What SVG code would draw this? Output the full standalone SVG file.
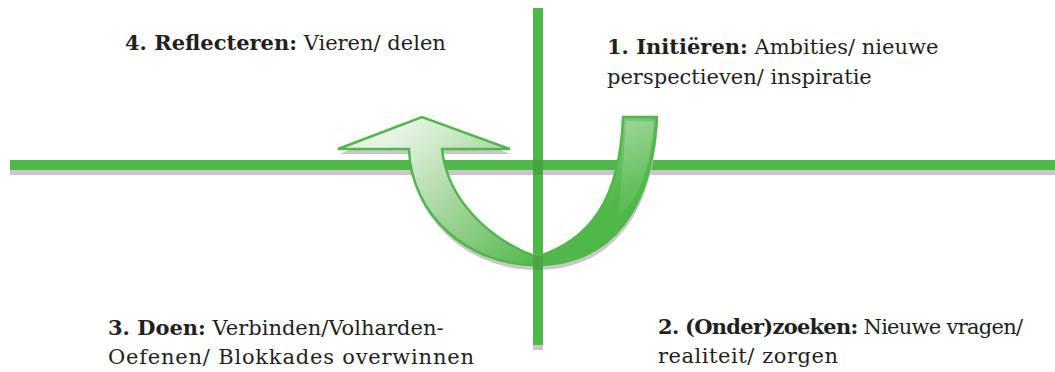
<svg xmlns="http://www.w3.org/2000/svg" width="1055" height="372" viewBox="0 0 1055 372">
<style>
.bar{fill:#4fb848}
.sh{fill:#c9c7c9}
.t{font-family:"DejaVu Serif","Liberation Serif",serif;font-size:21px;fill:#231f20}
.b{font-weight:bold}
</style>
<defs>
<linearGradient id="g" gradientUnits="userSpaceOnUse" x1="420" y1="115" x2="545" y2="262">
<stop offset="0" stop-color="#e6f3e3"/>
<stop offset="0.5" stop-color="#9fd397"/>
<stop offset="1" stop-color="#4fb848"/>
</linearGradient>
<linearGradient id="g2" gradientUnits="userSpaceOnUse" x1="640" y1="117" x2="600" y2="240">
<stop offset="0" stop-color="#ffffff" stop-opacity="0.25"/>
<stop offset="1" stop-color="#ffffff" stop-opacity="0"/>
</linearGradient>
<path id="arrow" d="M409,149 C411,215 468,265 535,265 C615,265 652,205 657,117 L623,117 C620,200 590,240 537,257 C490,240 447,200 442,149 L510,149 L422,117 L338,149 Z"/>
</defs>
<g id="axes">
<rect class="sh" x="10" y="170" width="1045" height="5"/>
<rect class="bar" x="10" y="160" width="1045" height="10"/>
</g>
<g id="cycle-arrow">
<use href="#arrow" transform="translate(1,5)" fill="#c9c7c9"/>
<use href="#arrow" fill="url(#g)" stroke="#4fb848" stroke-width="2.5" stroke-linejoin="miter"/>
<path d="M626,121 L654,121 C650,170 640,200 618,215 C622,180 624,150 626,121 Z" fill="url(#g2)"/>
</g>
<g id="vertical-axis">
<rect class="sh" x="533" y="345" width="10" height="5"/>
<rect class="bar" x="533" y="8" width="10" height="337"/>
<rect x="533" y="160" width="10" height="15" fill="#000" opacity="0.1"/>
<rect x="533" y="256" width="10" height="14" fill="#000" opacity="0.08"/>
</g>
<g id="q4">
<text class="t" x="125" y="50"><tspan class="b">4. Reflecteren:</tspan> Vieren/ delen</text>
</g>
<g id="q1">
<text class="t" x="607" y="54"><tspan class="b">1.  Initiëren:</tspan> Ambities/ nieuwe</text>
<text class="t" x="607" y="84">perspectieven/ inspiratie</text>
</g>
<g id="q3">
<text class="t" x="108" y="335"><tspan class="b">3. Doen:</tspan> Verbinden/Volharden-</text>
<text class="t" x="108" y="364" textLength="366" lengthAdjust="spacing">Oefenen/ Blokkades overwinnen</text>
</g>
<g id="q2">
<text class="t" x="658" y="334" textLength="365" lengthAdjust="spacing"><tspan class="b">2. (Onder)zoeken:</tspan> Nieuwe vragen/</text>
<text class="t" x="658" y="363" textLength="180" lengthAdjust="spacing">realiteit/ zorgen</text>
</g>
</svg>
